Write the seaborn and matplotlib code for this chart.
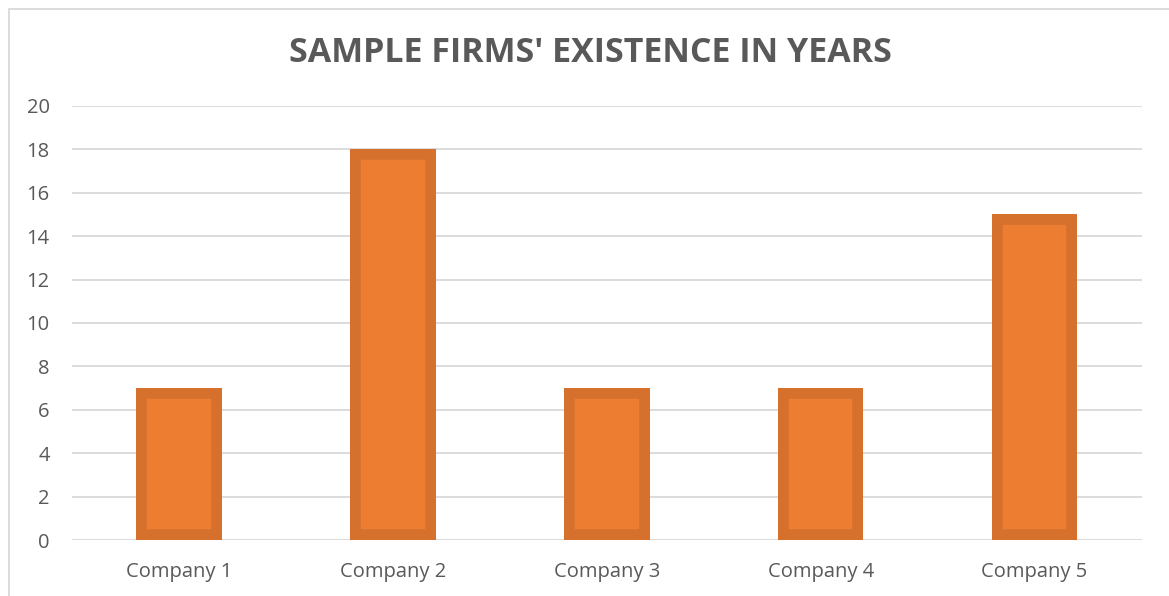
import matplotlib
matplotlib.use("Agg")
import matplotlib.pyplot as plt
from matplotlib.patches import Rectangle
import seaborn as sns
import pandas as pd

companies = ["Company 1", "Company 2", "Company 3", "Company 4", "Company 5"]
years = [7, 18, 7, 7, 15]
y_ticks = [0, 2, 4, 6, 8, 10, 12, 14, 16, 18, 20]

FILL = "#ED7D31"
EDGE = "#D5712D"
TEXT = "#595959"
GRID = "#D9D9D9"

sns.set_theme(style="white")
plt.rcParams["font.family"] = ["Open Sans", "DejaVu Sans"]

W, H = 1169, 596
fig = plt.figure(figsize=(W / 100, H / 100), dpi=100)
ax = fig.add_axes([72 / W, (H - 540) / H, (1141.5 - 72) / W, (540 - 106) / H])

df = pd.DataFrame({"company": companies, "years": years})
sns.barplot(data=df, x="company", y="years", color=FILL, saturation=1,
            width=0.40, ax=ax, zorder=3)

# inner darker frame: a wide stroke clipped to each bar's own outline
for p in ax.patches:
    p.set_edgecolor(EDGE)
    p.set_linewidth(15.5)
    p.set_clip_path(p)

# data labels in white, as the chart carries them
for c in ax.containers:
    ax.bar_label(c, labels=[str(v) for v in years], color="white",
                 fontsize=11, padding=4, zorder=4)

ax.set_ylim(0, 20)
ax.set_xlim(-0.5, len(companies) - 0.5)
ax.set_yticks(y_ticks)
ax.set_yticklabels([str(t) for t in y_ticks])
ax.yaxis.grid(True, color=GRID, linewidth=1.3, zorder=0)
ax.set_axisbelow(True)
for s in ax.spines.values():
    s.set_visible(False)
ax.tick_params(axis="both", length=0, labelsize=14.5, labelcolor=TEXT)
ax.tick_params(axis="y", pad=16)
ax.tick_params(axis="x", pad=15.5)
ax.set_xlabel("")
ax.set_ylabel("")

fig.text(590 / W, 1 - 53 / H, "SAMPLE FIRMS' EXISTENCE IN YEARS",
         ha="center", va="center", fontsize=24.5, fontweight="bold", color=TEXT)

# chart-area frame
fig.patches.append(Rectangle((8.5 / W, -0.1), 1.2, (H - 8.5) / H + 0.1,
                             transform=fig.transFigure, fill=False,
                             edgecolor=GRID, linewidth=1.3))

fig.savefig("out.png", dpi=100)
